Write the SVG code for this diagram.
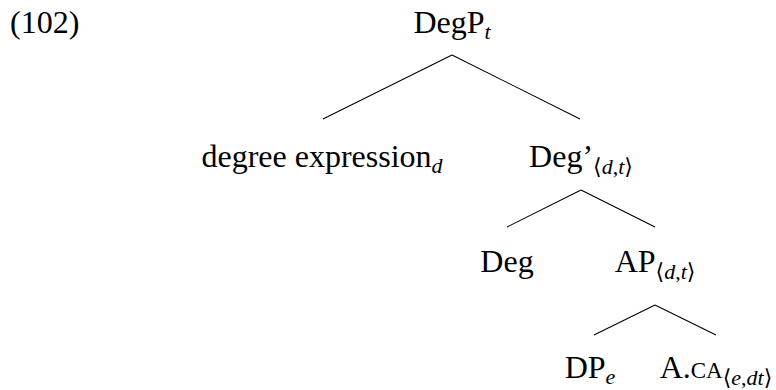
<svg xmlns="http://www.w3.org/2000/svg" width="776" height="390" viewBox="0 0 776 390">
<style>
.t{font-family:"Liberation Serif","DejaVu Serif",serif;font-size:32px;fill:#000;text-anchor:middle}
.s{font-size:22px}
.i{font-style:italic}
.sc{font-size:23px}
.e{stroke:#000;stroke-width:1.1;fill:none}
</style>
<rect width="776" height="390" fill="#fff"/>
<text class="t" x="10" y="33" style="text-anchor:start">(102)</text>
<g id="connectors">
<path class="e" d="M452,55 L323,119 M452,55 L580,119"/>
<path class="e" d="M581,190 L507,227 M581,190 L655,227"/>
<path class="e" d="M655,305 L594,335 M655,305 L716,335"/>
</g>
<g id="DegP"><text class="t" x="452" y="33">DegP<tspan class="s i" dy="6">t</tspan></text></g>
<g id="degexpr"><text class="t" x="322" y="167">degree expression<tspan class="s i" dy="6">d</tspan></text></g>
<g id="DegBar"><text class="t" x="581" y="167">Deg’<tspan class="s" dy="7">⟨<tspan class="i">d</tspan>,<tspan class="i">t</tspan>⟩</tspan></text></g>
<g id="Deg"><text class="t" x="507" y="272">Deg</text></g>
<g id="AP"><text class="t" x="655" y="272">AP<tspan class="s" dy="7">⟨<tspan class="i">d</tspan>,<tspan class="i">t</tspan>⟩</tspan></text></g>
<g id="DP"><text class="t" x="590" y="378">DP<tspan class="s i" dy="6">e</tspan></text></g>
<g id="ACA"><text class="t" x="716" y="378">A.<tspan class="sc">CA</tspan><tspan class="s" dy="7">⟨<tspan class="i">e</tspan>,<tspan class="i">dt</tspan>⟩</tspan></text></g>
</svg>
